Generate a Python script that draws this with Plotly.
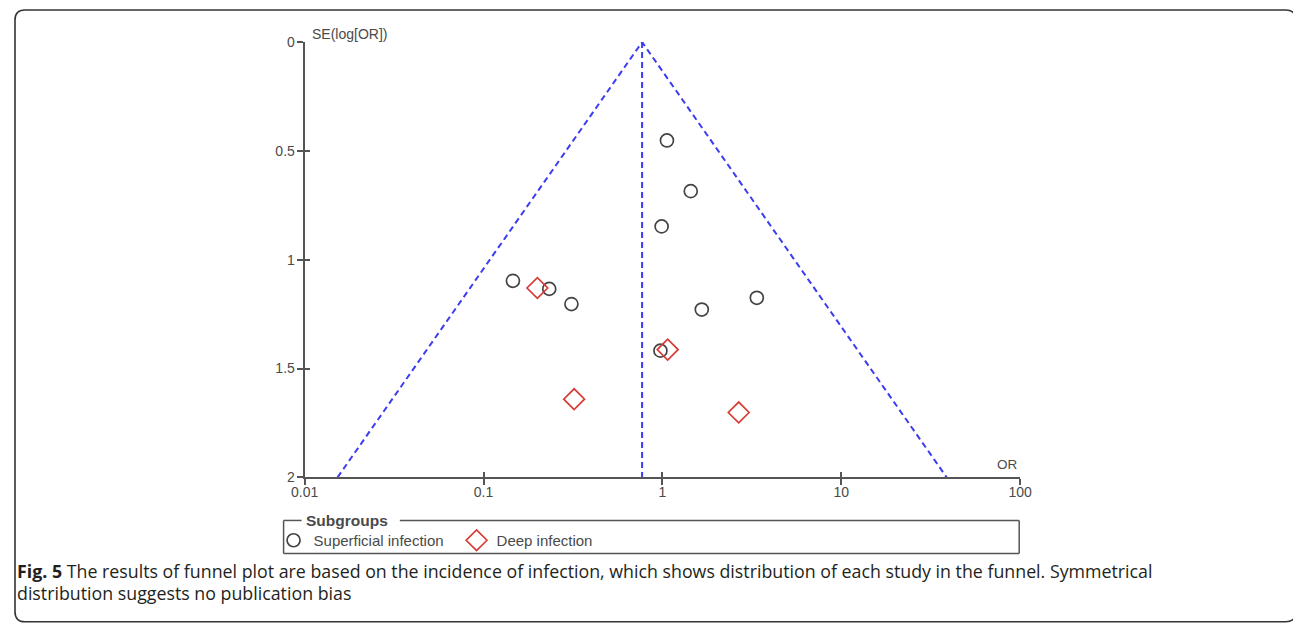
import math
import plotly.graph_objects as go

# Study estimates: odds ratio and standard error of log(OR)
superficial_or = [1.06, 1.44, 0.99, 3.37, 1.66, 0.975, 0.146, 0.233, 0.31]
superficial_se = [0.452, 0.685, 0.847, 1.175, 1.229, 1.418, 1.097, 1.134, 1.204]
deep_or = [0.20, 1.07, 0.321, 2.67]
deep_se = [1.130, 1.413, 1.641, 1.702]

pooled_or = 0.77
se_max = 2.0

x_tickvals = [0.01, 0.1, 1, 10, 100]
x_ticktext = ["0.01", "0.1", "1", "10", "100"]
y_tickvals = [0, 0.5, 1, 1.5, 2]
y_ticktext = ["0", "0.5", "1", "1.5", "2"]

caption_bold = "Fig. 5"
caption_line1 = (" The results of funnel plot are based on the incidence of infection, "
                 "which shows distribution of each study in the funnel. Symmetrical")
caption_line2 = "distribution suggests no publication bias"

# Layout positions are given in screen pixels and converted to paper
# fractions of the figure div.
OFF_X, OFF_Y = 13.0, 8.0
SX, SY = 0.978, 0.972
W, H = 1309, 634


def px(x):
    return ((x - OFF_X) / SX) / W


def py(y):
    return 1 - ((y - OFF_Y) / SY) / H


# 95% pseudo-confidence limits of the funnel
lo = pooled_or * math.exp(-1.96 * se_max)
hi = pooled_or * math.exp(1.96 * se_max)
funnel_x = [lo, pooled_or, hi]
funnel_y = [se_max, 0, se_max]

blue = "#3c3cf0"
axis_col = "#555555"
label_font = dict(family="Liberation Sans, Arial", size=14, color="#4a4a4a")

fig = go.Figure()

fig.add_trace(go.Scatter(
    x=funnel_x, y=funnel_y, mode="lines",
    line=dict(color=blue, width=2, dash="6px,4px"),
    showlegend=False, hoverinfo="skip"))
fig.add_trace(go.Scatter(
    x=[pooled_or, pooled_or], y=[0, se_max], mode="lines",
    line=dict(color=blue, width=2, dash="6px,4px"),
    showlegend=False, hoverinfo="skip"))

fig.add_trace(go.Scatter(
    x=superficial_or, y=superficial_se, mode="markers",
    name="Superficial infection",
    marker=dict(symbol="circle-open", size=13, color="#444444",
                line=dict(width=1.7, color="#444444"))))
fig.add_trace(go.Scatter(
    x=deep_or, y=deep_se, mode="markers",
    name="Deep infection",
    marker=dict(symbol="diamond-open", size=16, color="#d83a34",
                line=dict(width=1.7, color="#d83a34"))))

# Overlay axes that give the crossing tick marks (inside half)
fig.add_trace(go.Scatter(x=[None], y=[None], xaxis="x2", yaxis="y2",
                         showlegend=False, hoverinfo="skip"))

xdom = [px(303), px(1017)]
ydom = [py(476), py(42)]

fig.update_layout(
    width=W, height=H,
    margin=dict(l=0, r=0, t=0, b=0),
    paper_bgcolor="white", plot_bgcolor="white",
    xaxis=dict(type="log", range=[-2, 2], domain=xdom,
               tickvals=x_tickvals, ticktext=x_ticktext,
               showgrid=False, zeroline=False,
               showline=True, linecolor=axis_col, linewidth=2,
               ticks="outside", ticklen=6, tickwidth=1.5, tickcolor=axis_col,
               tickfont=label_font, ticklabelstandoff=-5, anchor="y"),
    yaxis=dict(range=[2, 0], domain=ydom,
               tickvals=y_tickvals, ticktext=y_ticktext,
               showgrid=False, zeroline=False,
               showline=True, linecolor=axis_col, linewidth=2,
               ticks="outside", ticklen=6, tickwidth=1.5, tickcolor=axis_col,
               tickfont=label_font, ticklabelstandoff=-1, anchor="x"),
    xaxis2=dict(type="log", range=[-2, 2], domain=xdom, overlaying="x",
                tickvals=x_tickvals, showticklabels=False, showgrid=False,
                zeroline=False, showline=False, ticks="inside", ticklen=5,
                tickwidth=1.5, tickcolor=axis_col, anchor="y2", side="bottom"),
    yaxis2=dict(range=[2, 0], domain=ydom, overlaying="y",
                tickvals=y_tickvals, showticklabels=False, showgrid=False,
                zeroline=False, showline=False, ticks="inside", ticklen=5,
                tickwidth=1.5, tickcolor=axis_col, anchor="x2", side="left"),
    showlegend=True,
    legend=dict(orientation="h", x=px(272), y=py(539),
                xanchor="left", yanchor="middle",
                font=dict(family="Liberation Sans, Arial", size=15, color="#4a4a4a"),
                bgcolor="rgba(0,0,0,0)", borderwidth=0,
                itemclick=False, itemdoubleclick=False,
                entrywidth=138, entrywidthmode="pixels",
                tracegroupgap=0, itemwidth=30),
)

# Axis captions
fig.add_annotation(x=px(308), y=py(34), xref="paper", yref="paper",
                   text="SE(log[OR])", showarrow=False,
                   xanchor="left", yanchor="middle",
                   font=dict(family="Liberation Sans, Arial", size=14, color="#4a4a4a"))
fig.add_annotation(x=px(1004), y=py(463), xref="paper", yref="paper",
                   text="OR", showarrow=False,
                   xanchor="center", yanchor="middle",
                   font=dict(family="Liberation Sans, Arial", size=13.5, color="#4a4a4a"))

# Legend frame with the title set into the top border
box_col = "#555555"
lx0, lx1, ly0, ly1 = 282, 1016, 519, 552
for (a, b, c, d) in [(lx0, ly0, lx0, ly1), (lx0, ly1, lx1, ly1), (lx1, ly0, lx1, ly1),
                     (lx0, ly0, 300, ly0), (398, ly0, lx1, ly0)]:
    fig.add_shape(type="line", xref="paper", yref="paper",
                  x0=px(a), y0=py(b), x1=px(c), y1=py(d),
                  line=dict(color=box_col, width=1.5))
fig.add_annotation(x=px(302), y=py(519), xref="paper", yref="paper",
                   text="<b>Subgroups</b>", showarrow=False,
                   xanchor="left", yanchor="middle",
                   font=dict(family="Liberation Sans, Arial", size=15.5, color="#4a4a4a"))

# Caption
cap_font = dict(family="Open Sans, Noto Sans", size=17.8, color="#231f20")
fig.add_annotation(x=px(13.5), y=py(569), xref="paper", yref="paper",
                   text="<b>" + caption_bold + "</b>" + caption_line1,
                   showarrow=False, xanchor="left", yanchor="middle", font=cap_font)
fig.add_annotation(x=px(13.5), y=py(591), xref="paper", yref="paper",
                   text=caption_line2,
                   showarrow=False, xanchor="left", yanchor="middle", font=cap_font)

# Rounded outer frame
x0, y0, x1, y1, r = 14, 10, 1292, 620, 10
path = (f"M {px(x0 + r)},{py(y0)} L {px(x1 - r)},{py(y0)} "
        f"Q {px(x1)},{py(y0)} {px(x1)},{py(y0 + r)} "
        f"L {px(x1)},{py(y1 - r)} Q {px(x1)},{py(y1)} {px(x1 - r)},{py(y1)} "
        f"L {px(x0 + r)},{py(y1)} Q {px(x0)},{py(y1)} {px(x0)},{py(y1 - r)} "
        f"L {px(x0)},{py(y0 + r)} Q {px(x0)},{py(y0)} {px(x0 + r)},{py(y0)} Z")
fig.add_shape(type="path", xref="paper", yref="paper", path=path,
              line=dict(color="#333333", width=1.6))

fig.write_html("out.html")
